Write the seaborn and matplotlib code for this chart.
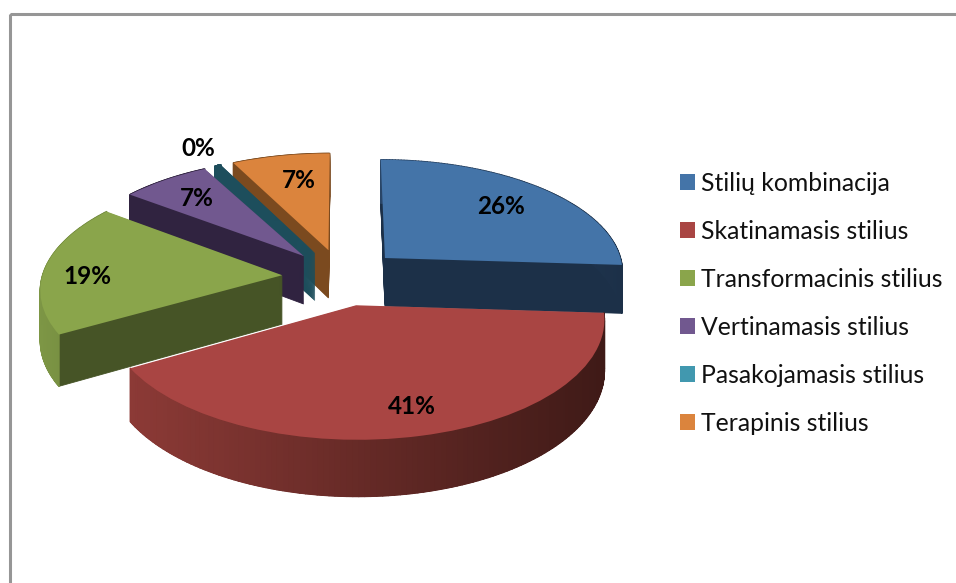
import numpy as np
import matplotlib
matplotlib.use("Agg")
import matplotlib.pyplot as plt
import seaborn as sns
from matplotlib.collections import PolyCollection
from matplotlib.colors import to_rgb
from matplotlib.patches import Rectangle
from matplotlib.transforms import Transform

# Data
categories = ['Stilių kombinacija', 'Skatinamasis stilius', 'Transformacinis stilius',
              'Vertinamasis stilius', 'Pasakojamasis stilius', 'Terapinis stilius']
values = [26.0, 40.7, 18.6, 6.8, 0.45, 7.45]

# Colours: top face, cut face, rim at the left and rim at the right
top_colors = ['#4474A8', '#A94543', '#8AA54B', '#71588F', '#4198AF', '#DB843D']
cut_colors = ['#1C3048', '#5A2220', '#465426', '#302340', '#1D4E5C', '#7B4A1F']
rim_left = ['#2A4668', '#8C3A36', '#7D9645', '#302340', '#1D4E5C', '#7B4A1F']
rim_right = ['#1C3048', '#3F1A17', '#6E853C', '#302340', '#1D4E5C', '#7B4A1F']

# Pixel positions of the percentage labels
label_x = [501, 412, 87, 197, 198, 299]
label_y = [206, 406, 277, 199, 148, 180]

draw_order = [5, 4, 3, 2, 0, 1]
explode = 0.25
depth = 49

sns.set_theme(style='white')
plt.rcParams['font.family'] = ['Lato', 'Open Sans', 'DejaVu Sans']


class Perspective(Transform):
    # unit pie coordinates -> picture pixels, the front of the disc is nearer
    input_dims = 2
    output_dims = 2

    def __init__(self, dz=0):
        super().__init__()
        self.dz = dz

    def transform_non_affine(self, xy):
        xy = np.asarray(xy, dtype=float)
        w = 1 / (1 + 0.11 * xy[:, 1])
        px = 342 + 240 * xy[:, 0] * w
        py = 277 - 113 * xy[:, 1] * w + self.dz * w
        return np.column_stack([px, py])


def shade(c1, c2, t):
    return tuple((1 - t) * a + t * b for a, b in zip(to_rgb(c1), to_rgb(c2)))


def draw_layer(colors, dz):
    wedges, _ = ax.pie(values, colors=colors, startangle=90, counterclock=False,
                       explode=[explode] * len(values))
    for i, w in enumerate(wedges):
        w.set_transform(Perspective(dz) + ax.transData)
        w.set_zorder(draw_order.index(i) * 10 + (2 if dz == 0 else 0))
        if dz == 0:
            w.set_linewidth(0)
        else:
            # thin edge so the narrow slices stay solid when stacked
            w.set_edgecolor(colors[i])
            w.set_linewidth(0.6)
    return wedges


def draw_rim(i):
    # outer wall of one slice, shaded from left to right
    frac = np.array(values) / np.sum(values)
    start = 2 * np.pi * np.sum(frac[:i])
    angles = np.linspace(start, start + 2 * np.pi * frac[i], 120)
    mid = start + np.pi * frac[i]
    x = np.sin(angles) + explode * np.sin(mid)
    y = np.cos(angles) + explode * np.cos(mid)
    upper = Perspective(0).transform_non_affine(np.column_stack([x, y]))
    lower = Perspective(depth).transform_non_affine(np.column_stack([x, y]))
    quads = [[upper[j], upper[j + 1], lower[j + 1], lower[j]] for j in range(len(x) - 1)]
    xs = upper[:, 0]
    t = (xs[:-1] - xs.min()) / max(xs.max() - xs.min(), 1)
    cols = [shade(rim_left[i], rim_right[i], v) for v in t]
    rim = PolyCollection(quads, facecolors=cols, edgecolors=cols, linewidths=1.0)
    rim.set_zorder(draw_order.index(i) * 10 + 1)
    ax.add_collection(rim)


fig = plt.figure(figsize=(9.56, 5.83), dpi=100)
ax = fig.add_axes([0, 0, 1, 1])

# stacked copies of the pie give the thickness
for dz in range(depth, 0, -1):
    draw_layer(cut_colors, dz)
for i in range(len(values)):
    draw_rim(i)
top_wedges = draw_layer(sns.color_palette(top_colors), 0)

total = sum(values)
for i, v in enumerate(values):
    ax.text(label_x[i], label_y[i], f'{100 * v / total:.0f}%', ha='center', va='center',
            fontsize=17.5, fontweight='bold', color='black', zorder=100)

ax.set_box_aspect(None)
ax.set_aspect('auto')
ax.set_xlim(0, 956)
ax.set_ylim(583, 0)
ax.axis('off')

# chart frame, it runs off the picture to the right and at the bottom
ax.add_patch(Rectangle((10, 14), 1200, 800, fill=False, edgecolor='#969696', linewidth=2.2, zorder=90))

ax.legend(top_wedges, categories, frameon=False, loc='upper left',
          bbox_to_anchor=(680 / 956, 1 - 172 / 583), fontsize=17.8,
          handlelength=0.6, handleheight=0.6, handletextpad=0.25,
          labelspacing=1.01, borderpad=0, borderaxespad=0, labelcolor='#111111')

# the thin slice only shows its dark cut face, the legend keeps the light colour
top_wedges[4].set_facecolor(cut_colors[4])

plt.savefig('out.png', dpi=100)
